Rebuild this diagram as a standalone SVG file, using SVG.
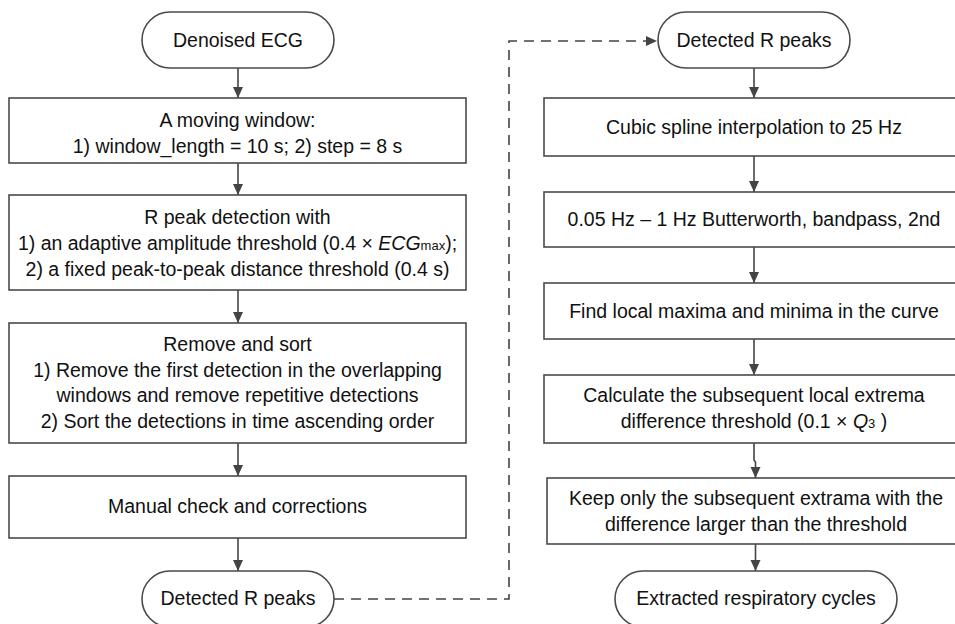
<svg xmlns="http://www.w3.org/2000/svg" width="955" height="624" viewBox="0 0 955 624">
<style>
.box{fill:#fff;stroke:#4a4a4a;stroke-width:1.6}
.t{font-family:"Liberation Sans",Arial,sans-serif;font-size:19.5px;fill:#111;text-anchor:middle}
.c{fill:none;stroke:#444;stroke-width:1.6}
.d{fill:none;stroke:#444;stroke-width:1.6;stroke-dasharray:10 7}
.sub{font-size:13px}
</style>
<defs>
<marker id="ah" markerUnits="userSpaceOnUse" markerWidth="12" markerHeight="12" viewBox="0 0 12 12" refX="11" refY="6" orient="auto">
<path d="M0,1 L11,6 L0,11 Z" fill="#444"/>
</marker>
</defs>
<rect width="955" height="624" fill="#fff"/>

<g id="connectors">
<line class="c" x1="238" y1="68" x2="238" y2="98" marker-end="url(#ah)"/>
<line class="c" x1="238" y1="163" x2="238" y2="195" marker-end="url(#ah)"/>
<line class="c" x1="238" y1="290" x2="238" y2="323" marker-end="url(#ah)"/>
<line class="c" x1="238" y1="443" x2="238" y2="476" marker-end="url(#ah)"/>
<line class="c" x1="238" y1="538" x2="238" y2="571" marker-end="url(#ah)"/>
<polyline class="d" points="334,599 509,599 509,41 657,41" marker-end="url(#ah)"/>
<line class="c" x1="754" y1="68" x2="754" y2="98" marker-end="url(#ah)"/>
<line class="c" x1="754" y1="156" x2="754" y2="192" marker-end="url(#ah)"/>
<line class="c" x1="754" y1="247" x2="754" y2="283" marker-end="url(#ah)"/>
<line class="c" x1="754" y1="339" x2="754" y2="375" marker-end="url(#ah)"/>
<polyline class="c" points="754,443 754,460 755.5,462 755.5,478" marker-end="url(#ah)"/>
<line class="c" x1="755.5" y1="544" x2="755.5" y2="571" marker-end="url(#ah)"/>
</g>

<g id="start">
<rect class="box" x="142" y="12" width="192" height="56" rx="28"/>
<text class="t" x="238" y="47">Denoised ECG</text>
</g>
<g id="moving-window">
<rect class="box" x="9" y="98" width="457" height="65"/>
<text class="t" x="237.5" y="127">A moving window:</text>
<text class="t" x="237.5" y="153">1) window_length = 10 s; 2) step = 8 s</text>
</g>
<g id="r-peak-detection">
<rect class="box" x="9" y="195" width="457" height="95"/>
<text class="t" x="237.5" y="224">R peak detection with</text>
<text class="t" x="237.5" y="250">1) an adaptive amplitude threshold (0.4 × <tspan font-style="italic">ECG</tspan><tspan class="sub">max</tspan>);</text>
<text class="t" x="237.5" y="276">2) a fixed peak-to-peak distance threshold (0.4 s)</text>
</g>
<g id="remove-sort">
<rect class="box" x="9" y="323" width="457" height="120"/>
<text class="t" x="237.5" y="351">Remove and sort</text>
<text class="t" x="237.5" y="377">1) Remove the first detection in the overlapping</text>
<text class="t" x="237.5" y="402">windows and remove repetitive detections</text>
<text class="t" x="237.5" y="428">2) Sort the detections in time ascending order</text>
</g>
<g id="manual-check">
<rect class="box" x="9" y="476" width="457" height="62"/>
<text class="t" x="237.5" y="513">Manual check and corrections</text>
</g>
<g id="detected-left">
<rect class="box" x="142" y="571" width="192" height="56" rx="28"/>
<text class="t" x="238" y="605">Detected R peaks</text>
</g>

<g id="detected-right">
<rect class="box" x="658" y="12" width="192" height="56" rx="28"/>
<text class="t" x="754" y="47">Detected R peaks</text>
</g>
<g id="spline">
<rect class="box" x="544" y="98" width="420" height="58"/>
<text class="t" x="754" y="134">Cubic spline interpolation to 25 Hz</text>
</g>
<g id="butterworth">
<rect class="box" x="544" y="192" width="420" height="55"/>
<text class="t" x="754" y="226">0.05 Hz – 1 Hz Butterworth, bandpass, 2nd</text>
</g>
<g id="local-extrema">
<rect class="box" x="544" y="283" width="420" height="56"/>
<text class="t" x="754" y="318">Find local maxima and minima in the curve</text>
</g>
<g id="threshold">
<rect class="box" x="544" y="375" width="420" height="68"/>
<text class="t" x="754" y="402">Calculate the subsequent local extrema</text>
<text class="t" x="754" y="428">difference threshold (0.1 × <tspan font-style="italic">Q</tspan><tspan class="sub">3</tspan> )</text>
</g>
<g id="keep">
<rect class="box" x="547" y="478" width="420" height="66"/>
<text class="t" x="756" y="505">Keep only the subsequent extrama with the</text>
<text class="t" x="756" y="531">difference larger than the threshold</text>
</g>
<g id="end">
<rect class="box" x="615" y="571" width="282" height="56" rx="28"/>
<text class="t" x="756" y="605">Extracted respiratory cycles</text>
</g>
</svg>
